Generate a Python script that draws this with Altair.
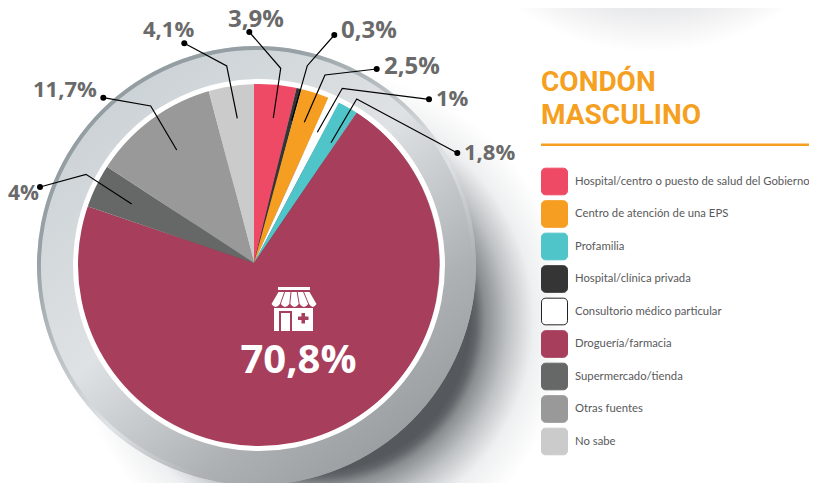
import math
import altair as alt
import pandas as pd

CATEGORIES = ["Hospital/centro o puesto de salud del Gobierno", "Centro de atención de una EPS", "Profamilia",
              "Hospital/clínica privada", "Consultorio médico particular", "Droguería/farmacia",
              "Supermercado/tienda", "Otras fuentes", "No sabe"]
COLORS = ["#ee4a66", "#f59e22", "#4fc4c9", "#353535", "#ffffff", "#a73e5c", "#666867", "#999999", "#cbcbcb"]
PIE_ORDER = ["Hospital/centro o puesto de salud del Gobierno", "Hospital/clínica privada",
             "Centro de atención de una EPS", "Consultorio médico particular", "Profamilia",
             "Droguería/farmacia", "Supermercado/tienda", "Otras fuentes", "No sabe"]
PIE_VALUES = [3.8, 0.45, 2.5, 1.0, 1.8, 70.8, 4.0, 11.7, 4.1]
LABELS = ["3,9%", "0,3%", "2,5%", "1%", "1,8%", "4%", "11,7%", "4,1%"]
LABEL_POS = [(228, 27), (341, 38), (384, 74), (436, 106), (464, 160), (8, 200), (33, 97), (143, 37)]
LABEL_SIZE = [24, 24, 24, 22, 22, 21, 22, 22]
LEADERS = [[(249.3, 32), (280.7, 68.3), (273.3, 118)],
           [(334.3, 35), (307.3, 65.7), (291.7, 120.7)],
           [(376.7, 69), (325, 75), (304.3, 122.3)],
           [(429, 99.3), (342.3, 88.3), (317.3, 132.3)],
           [(457.3, 153), (356.7, 99), (331, 142.7)],
           [(40, 187), (86, 174.3), (131.7, 204)],
           [(103.3, 97.7), (150.7, 106), (176.7, 150)],
           [(184.3, 43.3), (226.7, 66), (237.3, 118.3)]]
TITLE_LINES = ["CONDÓN", "MASCULINO"]
BIG_LABEL = "70,8%"

OX = OY = 8  # page margin
TAU = 2 * math.pi
one = alt.Data(values=[{"a": 1}])


def disc(cx, cy, inner, outer, fill):
    return alt.Chart(one).mark_arc(theta=0, theta2=TAU, radius=outer, radius2=inner, fill=fill, stroke=None).encode(
        x=alt.value(cx - OX), y=alt.value(cy - OY))


def stops(*pairs):
    return [{"offset": o, "color": c} for o, c in pairs]


shadow_main = {"gradient": "radial", "x1": .5, "y1": .5, "r1": 0, "x2": .5, "y2": .5, "r2": .5,
               "stops": stops((0, "#55595d"), (.6, "#55595d"), (.625, "#62666a"), (.66, "#8a8e91"),
                              (.75, "#bfc2c4"), (.856, "#eeeff0"), (1, "#ffffff"))}
shadow_top = {"gradient": "radial", "x1": .5, "y1": .5, "r1": 0, "x2": .5, "y2": .5, "r2": .5,
              "stops": stops((0, "#dcdde0"), (.78, "#e4e5e7"), (.9, "#f3f3f4"), (1, "#ffffff"))}
band_fill = {"gradient": "linear", "x1": 0, "y1": 0, "x2": .8, "y2": 1,
             "stops": stops((0, "#c3cbd0"), (.5, "#dfe2e4"), (.78, "#aeb1b4"), (1, "#96999c"))}
rim_fill = {"gradient": "linear", "x1": 0, "y1": 0, "x2": .8, "y2": 1,
            "stops": stops((0, "#8f999d"), (.3, "#98a2a6"), (.5, "#c5cacd"), (.6, "#dfe2e4"),
                           (.62, "#dfe2e4"), (.78, "#aeb1b4"), (1, "#96999c"))}

wedge_df = pd.DataFrame({"cat": PIE_ORDER, "value": PIE_VALUES, "i": range(len(PIE_VALUES))})
wedges = alt.Chart(wedge_df).mark_arc(radius=187, stroke=None).encode(
    x=alt.value(254 - OX), y=alt.value(263 - OY),
    theta=alt.Theta("value:Q", stack=True, scale=alt.Scale(domain=[0, sum(PIE_VALUES)], range=[0, TAU])),
    order=alt.Order("i:Q"),
    color=alt.Color("cat:N", scale=alt.Scale(domain=CATEGORIES, range=COLORS), legend=None))

line_rows, dot_rows = [], []
for g, pts in enumerate(LEADERS):
    for s, (px, py) in enumerate(pts):
        line_rows.append({"g": g, "s": s, "x": px - OX, "y": py - OY})
    dot_rows.append({"x": pts[0][0] - OX, "y": pts[0][1] - OY})
X = alt.X("x:Q", scale=None, axis=None)
Y = alt.Y("y:Q", scale=None, axis=None)
leader_lines = alt.Chart(pd.DataFrame(line_rows)).mark_line(color="#000000", strokeWidth=1.2).encode(
    x=X, y=Y, detail="g:N", order="s:Q")
leader_dots = alt.Chart(pd.DataFrame(dot_rows)).mark_circle(color="#000000", size=36, opacity=1).encode(x=X, y=Y)

label_df = pd.DataFrame({"t": LABELS, "x": [p[0] - OX for p in LABEL_POS], "y": [p[1] - OY for p in LABEL_POS],
                         "fs": LABEL_SIZE})
labels = alt.Chart(label_df).mark_text(font="Open Sans", fontWeight="bold", fontSize=24, align="left",
                                       baseline="alphabetic", color="#6a6a6a").encode(
    x=X, y=Y, text="t:N", size=alt.Size("fs:Q", scale=None, legend=None))

big = alt.Chart(alt.Data(values=[{"t": BIG_LABEL}])).mark_text(
    font="Open Sans", fontWeight="bold", fontSize=40, align="center", baseline="alphabetic", color="#ffffff").encode(
    x=alt.value(298.5 - OX), y=alt.value(373 - OY), text="t:N")

# shop icon, drawn as SVG symbols around one anchor
ICX, ICY, U = 294, 309, 24


def poly(*pts):
    return "M" + " L".join(f"{(x - ICX) / U:.3f},{(y - ICY) / U:.3f}" for x, y in pts) + " Z"


tops = [278, 284.6, 291, 297.2, 303.6, 310]
bots = [271, 280.4, 289.8, 299.2, 308.6, 317]
awn = ""
for k in range(5):
    a, b, c, d = tops[k] + .5, tops[k + 1] - .5, bots[k + 1] - .5, bots[k] + .5
    awn += (f"M{(a - ICX) / U:.3f},{(292 - ICY) / U:.3f} L{(b - ICX) / U:.3f},{(292 - ICY) / U:.3f} "
            f"L{(c - ICX) / U:.3f},{(304 - ICY) / U:.3f} "
            f"Q{((c + d) / 2 - ICX) / U:.3f},{(310 - ICY) / U:.3f} {(d - ICX) / U:.3f},{(304 - ICY) / U:.3f} Z ")
icon_rows = [
    (poly((278, 287), (310, 287), (310, 290), (278, 290)), "#ffffff"),
    (awn, "#ffffff"),
    (poly((274, 308), (313, 308), (313, 331), (274, 331)), "#ffffff"),
    (poly((279, 311), (292, 311), (292, 331), (279, 331)), "#a73e5c"),
    (poly((281, 313), (290, 313), (290, 331), (281, 331)), "#ffffff"),
    (poly((301.5, 313), (305, 313), (305, 316.5), (308.5, 316.5), (308.5, 320), (305, 320), (305, 323.5),
          (301.5, 323.5), (301.5, 320), (298, 320), (298, 316.5), (301.5, 316.5)), "#a73e5c"),
]
icon_df = pd.DataFrame(icon_rows, columns=["p", "c"])
icon = alt.Chart(icon_df).mark_point(filled=True, opacity=1, strokeWidth=0).encode(
    x=alt.value(ICX - OX), y=alt.value(ICY - OY), size=alt.value(U * U * 4),
    shape=alt.Shape("p:N", scale=None, legend=None), fill=alt.Fill("c:N", scale=None, legend=None))

title_df = pd.DataFrame({"t": TITLE_LINES, "x": [541 - OX] * 2, "y": [91 - OY, 124 - OY]})
title = alt.Chart(title_df).mark_text(font="Roboto", fontWeight="bold", fontSize=28, align="left",
                                      baseline="alphabetic", color="#f5a021").encode(x=X, y=Y, text="t:N")
title_rule = alt.Chart(one).mark_rule(color="#f5a021", strokeWidth=2.5).encode(
    x=alt.value(541 - OX), x2=alt.value(817 - OX), y=alt.value(144.7 - OY))

leg_df = pd.DataFrame({"cat": CATEGORIES, "i": range(9)})
leg_df["a"] = leg_df["i"] - .41
leg_df["b"] = leg_df["i"] + .41
leg_df["col"] = COLORS
leg_df["st"] = ["#222222" if c == "#ffffff" else c for c in COLORS]
ys = alt.Scale(domain=[0, 8], range=[181.5 - OY, 441.5 - OY])
swatches = alt.Chart(leg_df).mark_rect(cornerRadius=4, strokeWidth=1).encode(
    x=alt.value(541.5 - OX), x2=alt.value(567.5 - OX),
    y=alt.Y("a:Q", scale=ys, axis=None), y2="b:Q",
    fill=alt.Fill("col:N", scale=None, legend=None), stroke=alt.Stroke("st:N", scale=None, legend=None))
legend_text = alt.Chart(leg_df).mark_text(font="Lato", fontSize=11.3, align="left", baseline="middle",
                                          color="#58595b").encode(
    x=alt.value(575 - OX), y=alt.Y("i:Q", scale=ys, axis=None), text="cat:N")

chart = alt.layer(
    disc(652, -182, 0, 234, shadow_top),
    disc(320, 320, 0, 250, shadow_main),
    wedges,
    disc(256.5, 265.5, 183, 219.5, band_fill),
    disc(256.5, 265.5, 215.5, 219.5, rim_fill),
    disc(259, 265, 181, 186, "#ffffff"),
    leader_lines, leader_dots, labels, big, icon,
    title, title_rule, swatches, legend_text,
).resolve_scale(x="independent", y="independent", color="independent").properties(
    width=801, height=475, padding=0, autosize="none", background="#ffffff"
).configure_view(strokeWidth=0)

chart.save("out.html", embed_options={"renderer": "svg", "actions": False})
